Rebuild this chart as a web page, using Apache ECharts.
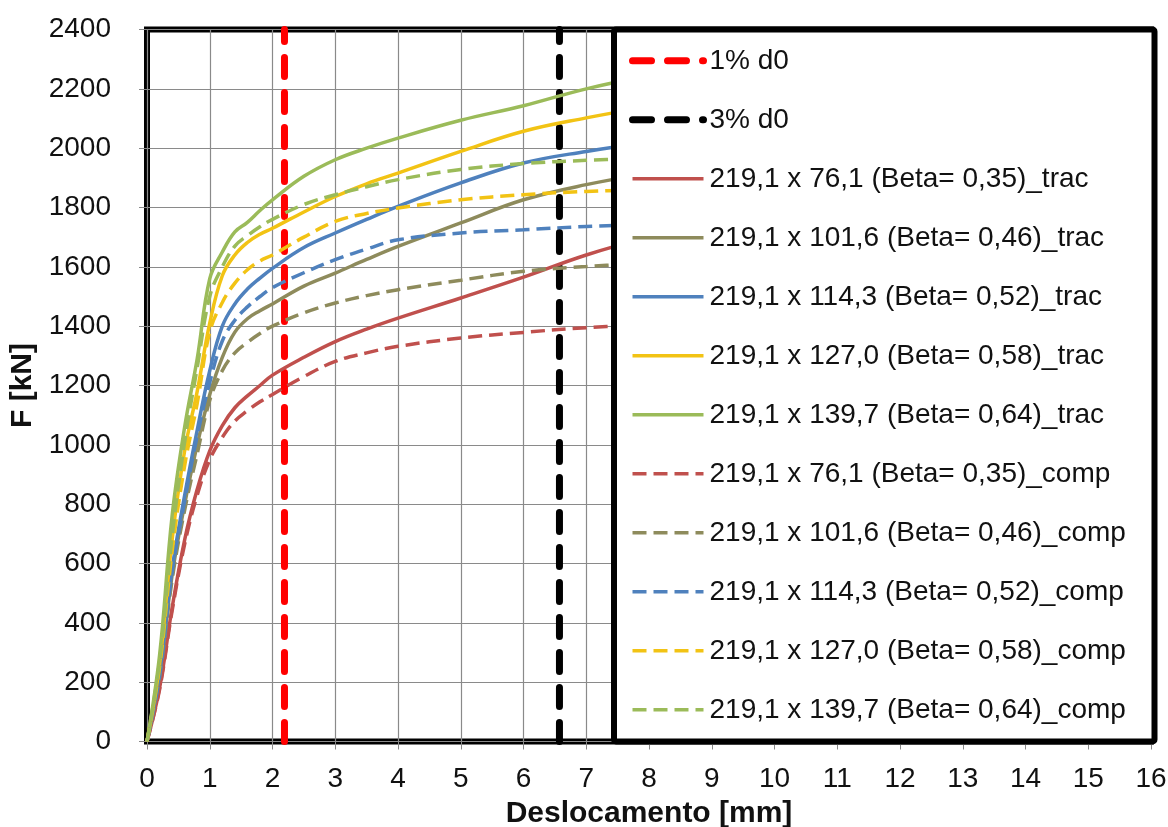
<!DOCTYPE html>
<html>
<head>
<meta charset="utf-8">
<script src="https://cdn.jsdelivr.net/npm/echarts/dist/echarts.min.js"></script>
<style>
html,body{margin:0;padding:0;background:#fff;}
#chart{width:1168px;height:827px;}
</style>
</head>
<body>
<div id="chart"></div>
<script>
// Displacement (mm) sample points shared by all curves
const xs = [0, 0.2, 0.4, 0.6, 0.8, 1.0, 1.2, 1.4, 1.6, 1.8, 2.0, 2.5, 3, 3.5, 4, 5, 6, 7, 8];

// Force (kN) – traction
const trac761  = [0, 180, 450, 680, 850, 980, 1065, 1125, 1165, 1200, 1235, 1295, 1348, 1390, 1427, 1495, 1565, 1640, 1700];
const trac1016 = [0, 225, 560, 800, 1000, 1170, 1295, 1380, 1425, 1452, 1475, 1535, 1579, 1625, 1669, 1748, 1826, 1877, 1915];
const trac1143 = [0, 230, 580, 830, 1050, 1250, 1400, 1475, 1525, 1562, 1595, 1665, 1714, 1760, 1804, 1883, 1950, 1989, 2020];
const trac1270 = [0, 260, 680, 980, 1180, 1410, 1570, 1640, 1682, 1710, 1730, 1785, 1837, 1880, 1916, 1989, 2057, 2102, 2140];
const trac1397 = [0, 290, 760, 1060, 1290, 1560, 1650, 1718, 1750, 1790, 1826, 1905, 1961, 2000, 2034, 2094, 2143, 2200, 2245];

// Force (kN) – compression
const comp761  = [0, 175, 440, 665, 830, 950, 1025, 1080, 1115, 1145, 1170, 1230, 1281, 1310, 1332, 1360, 1379, 1395, 1405];
const comp1016 = [0, 215, 545, 780, 970, 1150, 1250, 1310, 1345, 1375, 1400, 1445, 1478, 1503, 1523, 1555, 1585, 1601, 1612];
const comp1143 = [0, 220, 570, 810, 1030, 1210, 1350, 1420, 1465, 1500, 1530, 1580, 1624, 1660, 1691, 1714, 1725, 1736, 1742];
const comp1270 = [0, 250, 640, 930, 1140, 1380, 1480, 1545, 1590, 1620, 1640, 1700, 1753, 1780, 1798, 1826, 1843, 1854, 1860];
const comp1397 = [0, 270, 690, 1010, 1260, 1500, 1600, 1670, 1705, 1735, 1760, 1810, 1843, 1870, 1894, 1928, 1948, 1959, 1966];

// Reference lines: 1% and 3% of d0 = 219.1 mm
const refNames = ['1% d0', '3% d0'];
const refX = [2.191, 6.573];
const refY = [0, 2400];

const curveNames = [
  '219,1 x 76,1 (Beta= 0,35)_trac',
  '219,1 x 101,6 (Beta= 0,46)_trac',
  '219,1 x 114,3 (Beta= 0,52)_trac',
  '219,1 x 127,0 (Beta= 0,58)_trac',
  '219,1 x 139,7 (Beta= 0,64)_trac',
  '219,1 x 76,1 (Beta= 0,35)_comp',
  '219,1 x 101,6 (Beta= 0,46)_comp',
  '219,1 x 114,3 (Beta= 0,52)_comp',
  '219,1 x 127,0 (Beta= 0,58)_comp',
  '219,1 x 139,7 (Beta= 0,64)_comp'
];
const curveData = [trac761, trac1016, trac1143, trac1270, trac1397, comp761, comp1016, comp1143, comp1270, comp1397];
const palette = ['#C0504D', '#8E8B5C', '#4F81BD', '#F2C314', '#9BBB59'];

const xTicks = { min: 0, max: 16, step: 1 };
const yTicks = { min: 0, max: 2400, step: 200 };

const FONT = "'Liberation Sans', Arial, sans-serif";

const series = [];
refNames.forEach((n, i) => {
  series.push({
    name: n, type: 'line', symbol: 'none', silent: true,
    data: refY.map(y => [refX[i], y]),
    lineStyle: { color: i === 0 ? '#FF0000' : '#000000', width: 7, type: [19, 16], cap: 'round' },
    itemStyle: { color: i === 0 ? '#FF0000' : '#000000' },
    z: 2
  });
});
curveNames.forEach((n, i) => {
  const ys = curveData[i];
  const comp = i >= 5;
  const c = palette[i % 5];
  series.push({
    name: n, type: 'line', symbol: 'none', smooth: 0.4,
    data: xs.map((x, k) => [x, ys[k]]),
    lineStyle: { color: c, width: 3.5, type: comp ? [14, 7] : 'solid' },
    itemStyle: { color: c },
    z: 2
  });
});

const chart = echarts.init(document.getElementById('chart'), null, { renderer: 'canvas' });
chart.setOption({
  animation: false,
  backgroundColor: '#ffffff',
  textStyle: { fontFamily: FONT },
  grid: {
    left: 147, right: 17, top: 29.5, bottom: 85.5,
    containLabel: false, outerBoundsMode: 'none',
    show: true, borderColor: '#000', borderWidth: 6, backgroundColor: 'transparent'
  },
  xAxis: {
    type: 'value', min: xTicks.min, max: xTicks.max, interval: xTicks.step,
    axisLine: { show: false },
    axisTick: { show: true, length: 8, lineStyle: { color: '#888', width: 1 } },
    axisLabel: { fontSize: 28, color: '#111', margin: 24, fontFamily: FONT, formatter: v => String(v) },
    splitLine: { show: true, lineStyle: { color: '#8a8a8a', width: 1.2 } },
    name: 'Deslocamento [mm]', nameLocation: 'middle', nameGap: 57,
    nameTextStyle: { fontSize: 30, fontWeight: 'bold', color: '#111', fontFamily: FONT }
  },
  yAxis: {
    type: 'value', min: yTicks.min, max: yTicks.max, interval: yTicks.step,
    axisLine: { show: false },
    axisTick: { show: true, length: 8, lineStyle: { color: '#888', width: 1 } },
    axisLabel: { fontSize: 28, color: '#111', margin: 36, fontFamily: FONT, formatter: v => String(v) },
    splitLine: { show: true, lineStyle: { color: '#8a8a8a', width: 1.2 } },
    name: 'F [kN]', nameLocation: 'middle', nameGap: 106,
    nameTextStyle: { fontSize: 30, fontWeight: 'bold', color: '#111', fontFamily: FONT }
  },
  graphic: [{
    type: 'rect', z: 3,
    shape: { x: 614, y: 29.5, width: 540.5, height: 712, r: 2 },
    style: { fill: '#ffffff', stroke: '#000000', lineWidth: 6 }
  }],
  legend: {
    orient: 'vertical', left: 629, top: 46.8, z: 5,
    padding: 0, itemGap: 31, itemWidth: 71, itemHeight: 14,
    data: refNames.concat(curveNames),
    itemStyle: { opacity: 0 },
    lineStyle: { width: 'inherit', type: 'inherit', cap: 'inherit' },
    textStyle: { fontSize: 28, lineHeight: 28, color: '#111', fontFamily: FONT, padding: [0, 0, 0, 1] },
    selectedMode: false
  },
  series: series
});
</script>
</body>
</html>
